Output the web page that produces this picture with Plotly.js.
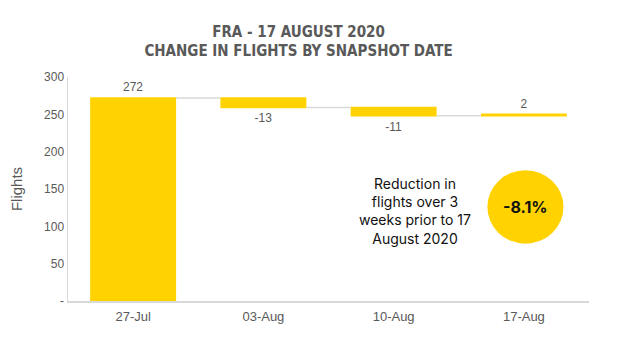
<!DOCTYPE html>
<html>
<head>
<meta charset="utf-8">
<script src="https://cdn.plot.ly/plotly-3.0.1.min.js"></script>
<style>html,body{margin:0;padding:0;background:#fff;}#chart{width:622px;height:352px;}</style>
</head>
<body>
<div id="chart"></div>
<script>
const categories = ["27-Jul", "03-Aug", "10-Aug", "17-Aug"];
const measures = ["absolute", "relative", "relative", "relative"];
const changes = [272, -13, -11, 2];
const valueLabels = ["272", "-13", "-11", "2"];
const yTickVals = [0, 50, 100, 150, 200, 250, 300];
const yTickText = ["-", "50", "100", "150", "200", "250", "300"];
const noteText = "Reduction in<br>flights over 3<br>weeks prior to 17<br>August 2020";
const pctText = "-8.1%";

const gold = "#FFD200";
const grey = "#595959";

const trace = {
  type: "waterfall",
  x: categories,
  y: changes,
  measure: measures,
  text: valueLabels,
  textposition: "outside",
  textfont: {family: "Liberation Sans, Arial, sans-serif", size: 12, color: grey},
  increasing: {marker: {color: gold}},
  decreasing: {marker: {color: gold}},
  totals: {marker: {color: gold}},
  connector: {mode: "between", line: {color: "#d9d9d9", width: 1.5}},
  cliponaxis: false,
  hoverinfo: "skip"
};

const layout = {
  width: 622, height: 352,
  margin: {l: 68, r: 33, t: 77, b: 51},
  paper_bgcolor: "#fff", plot_bgcolor: "#fff",
  showlegend: false,
  waterfallgap: 0.34,
  title: {
    text: "<b>FRA - 17 AUGUST 2020<br>CHANGE IN FLIGHTS BY SNAPSHOT DATE</b>",
    font: {family: "DejaVu Sans Condensed", size: 15, color: grey},
    x: 0.48, xanchor: "center", y: 0.895, yanchor: "top"
  },
  xaxis: {
    type: "category",
    showgrid: false, zeroline: false,
    showline: true, linecolor: "#d9d9d9", linewidth: 1.5,
    ticks: "", ticklabelstandoff: 3,
    tickfont: {family: "Liberation Sans, Arial, sans-serif", size: 13, color: grey}
  },
  yaxis: {
    range: [0, 300],
    tickvals: yTickVals, ticktext: yTickText,
    showgrid: false, zeroline: false,
    showline: true, linecolor: "#d9d9d9", linewidth: 1.5,
    ticks: "", ticklen: 0,
    tickfont: {family: "Liberation Sans, Arial, sans-serif", size: 12, color: grey},
    title: {text: "Flights", font: {family: "Liberation Sans, Arial, sans-serif", size: 15, color: grey}, standoff: 18}
  },
  shapes: [{
    type: "circle", xref: "paper", yref: "paper",
    x0: 0.878 - 0.073, x1: 0.878 + 0.073,
    y0: 0.42 - 0.164, y1: 0.42 + 0.164,
    fillcolor: gold, line: {width: 0}, layer: "above"
  }],
  annotations: [
    {xref: "paper", yref: "paper", x: 0.666, y: 0.40, xanchor: "center", yanchor: "middle",
     text: noteText, showarrow: false, align: "center",
     font: {family: "Inter, Roboto, Arial, sans-serif", size: 14, color: "#111"}},
    {xref: "paper", yref: "paper", x: 0.878, y: 0.42, xanchor: "center", yanchor: "middle",
     text: "<b>" + pctText + "</b>", showarrow: false,
     font: {family: "Inter, Roboto, Arial, sans-serif", size: 16, color: "#111"}}
  ]
};

Plotly.newPlot("chart", [trace], layout, {displayModeBar: false, staticPlot: true});
</script>
</body>
</html>
